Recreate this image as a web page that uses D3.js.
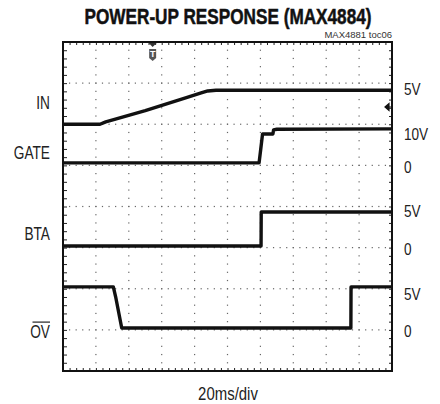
<!DOCTYPE html>
<html>
<head>
<meta charset="utf-8">
<script src="https://cdn.jsdelivr.net/npm/d3@7"></script>
<style>
  body { margin: 0; background: #fff; }
  svg { display: block; }
  .lbl { font-family: 'Liberation Sans Narrow', 'Liberation Sans', Arial, sans-serif; fill: #222; }
</style>
</head>
<body>
<svg id="chart" width="440" height="404"></svg>
<script>
// time axis, ms (20ms/div, 10 div)
var timeDomain = [0, 200];
var divDomain = [0, 8];

// traces: [time ms, volts]
var inTrace = [[0, 0], [22.5, 0], [26, 0.35], [50, 2.0], [75, 3.9], [84, 4.6], [88, 4.9], [93, 5], [200, 5]];
var gateTrace = [[0, 0], [119.2, 0], [120.2, 4], [121.3, 8.5], [127.6, 8.5], [128, 9.7], [130, 9.9], [200, 10]];
var btaTrace = [[0, 0], [120.4, 0], [120.5, 5], [200, 5]];
var ovTrace = [[0, 5], [30.6, 5], [32, 3.8], [35.7, 0], [175, 0], [175.1, 5], [200, 5]];

var channelNames = ["IN", "GATE", "BTA", "OV"];
var rightLabels = ["5V", "10V", "0", "5V", "0", "5V", "0"];
var triggerTime = 54.5;
var xLabel = "20ms/div";
var title = "POWER-UP RESPONSE (MAX4884)";
var note = "MAX4881 toc06";

// where each channel sits on screen (ground in divisions, volts per division)
var channels = [
  { data: inTrace, zero: 6.0, vdiv: 6.05 },
  { data: gateTrace, zero: 5.06, vdiv: 12.1 },
  { data: btaTrace, zero: 3.04, vdiv: 6.05 },
  { data: ovTrace, zero: 1.045, vdiv: 5.0 }
];
var leftLabelDiv = [6.37, 5.15, 3.19, 0.8];
var rightLabelDiv = [6.71, 5.62, 4.81, 3.74, 2.82, 1.73, 0.83];

var svg = d3.select('#chart');
var pL = 63, pR = 392, pT = 42, pB = 371;

var x = d3.scaleLinear().domain(timeDomain).range([pL, pR]);
var y = d3.scaleLinear().domain(divDomain).range([pB, pT]);

// condensed text: squeeze glyphs horizontally
function condensed(txt, tx, ty, size, sx, anchor) {
    return svg.append('text')
        .attr('class', 'lbl')
        .attr('transform', 'translate(' + tx + ',' + ty + ') scale(' + sx + ',1)')
        .attr('text-anchor', anchor || 'start')
        .attr('font-size', size)
        .text(txt);
}

// title
svg.append('text')
    .attr('x', 228).attr('y', 24)
    .attr('text-anchor', 'middle')
    .attr('class', 'lbl')
    .attr('font-size', 21.5)
    .attr('font-weight', 'bold')
    .attr('textLength', 287)
    .attr('lengthAdjust', 'spacingAndGlyphs')
    .style('fill', '#111')
    .style('stroke', '#111').style('stroke-width', 0.5)
    .text(title);

svg.append('text')
    .attr('x', 392).attr('y', 38)
    .attr('text-anchor', 'end')
    .attr('font-family', "'Liberation Sans', Arial, sans-serif")
    .attr('font-size', 9.5)
    .attr('fill', '#333')
    .text(note);

// dotted grid
var g = svg.append('g');
var minorX = d3.range(0, 200.01, 4);
var minorY = d3.range(0, 8.01, 0.2);
var majorX = d3.range(20, 200, 20);
var majorY = d3.range(1, 8, 1);

majorX.forEach(function (t) {
    g.selectAll(null).data(minorY).enter().append('rect')
        .attr('x', x(t) - 0.6).attr('y', function (d) { return y(d) - 0.6; })
        .attr('width', 1.2).attr('height', 1.2).attr('fill', '#666');
});
majorY.forEach(function (v) {
    g.selectAll(null).data(minorX).enter().append('rect')
        .attr('x', function (d) { return x(d) - 0.6; }).attr('y', y(v) - 0.6)
        .attr('width', 1.2).attr('height', 1.2).attr('fill', '#666');
});

// minor ticks on frame, via d3 axes
function noLabels(a) {
    a.select('.domain').remove();
    a.selectAll('text').remove();
    a.selectAll('line').attr('stroke', '#222').attr('stroke-width', 1);
}
svg.append('g').attr('transform', 'translate(0,' + pT + ')')
    .call(d3.axisBottom(x).tickValues(minorX).tickSize(3).tickFormat('')).call(noLabels);
svg.append('g').attr('transform', 'translate(0,' + pB + ')')
    .call(d3.axisTop(x).tickValues(minorX).tickSize(3).tickFormat('')).call(noLabels);
svg.append('g').attr('transform', 'translate(' + pL + ',0)')
    .call(d3.axisRight(y).tickValues(minorY).tickSize(4).tickFormat('')).call(noLabels);
svg.append('g').attr('transform', 'translate(' + pR + ',0)')
    .call(d3.axisLeft(y).tickValues(minorY).tickSize(3).tickFormat('')).call(noLabels);

// frame
svg.append('rect')
    .attr('x', pL).attr('y', pT)
    .attr('width', pR - pL).attr('height', pB - pT)
    .attr('fill', 'none').attr('stroke', '#111').attr('stroke-width', 2);

// traces
channels.forEach(function (c) {
    var line = d3.line()
        .x(function (d) { return x(d[0]); })
        .y(function (d) { return y(c.zero + d[1] / c.vdiv); });
    svg.append('path')
        .datum(c.data)
        .attr('d', line)
        .attr('fill', 'none')
        .attr('stroke', '#111')
        .attr('stroke-width', 3.4)
        .attr('stroke-linejoin', 'round');
});

// trigger marker
var tx = x(triggerTime);
svg.append('path')
    .attr('d', 'M' + (tx - 4) + ',' + (pT + 1) + 'L' + (tx + 4) + ',' + (pT + 1) + 'L' + tx + ',' + (pT + 5) + 'Z')
    .attr('fill', '#333');
svg.append('path')
    .attr('d', 'M' + (tx - 3.5) + ',' + (pT + 7) + 'h7v9l-3.5,3l-3.5,-3Z')
    .attr('fill', '#555');
svg.append('text')
    .attr('x', tx).attr('y', pT + 15)
    .attr('text-anchor', 'middle')
    .attr('font-family', "'Liberation Sans', Arial, sans-serif")
    .attr('font-weight', 'bold')
    .attr('font-size', 9)
    .attr('fill', '#fff')
    .text('T');

// trigger level arrow on the right
var ay = y(6.42);
svg.append('path')
    .attr('d', 'M' + (pR - 7) + ',' + ay + 'l4,-3.5v7Z M' + (pR - 4) + ',' + ay + 'h3')
    .attr('fill', '#111').attr('stroke', '#111').attr('stroke-width', 1.2);

// channel names
channelNames.forEach(function (d, i) {
    condensed(d, 50, y(leftLabelDiv[i]), 18.5, 0.74, 'end');
});

// overline on OV
svg.append('line')
    .attr('x1', 32.5).attr('x2', 50)
    .attr('y1', y(leftLabelDiv[3]) - 16).attr('y2', y(leftLabelDiv[3]) - 16)
    .attr('stroke', '#222').attr('stroke-width', 1.2);

// volt labels
rightLabels.forEach(function (d, i) {
    condensed(d, 404, y(rightLabelDiv[i]), 17, 0.8, 'start');
});

condensed(xLabel, 228, 400, 18, 0.83, 'middle');
</script>
</body>
</html>
